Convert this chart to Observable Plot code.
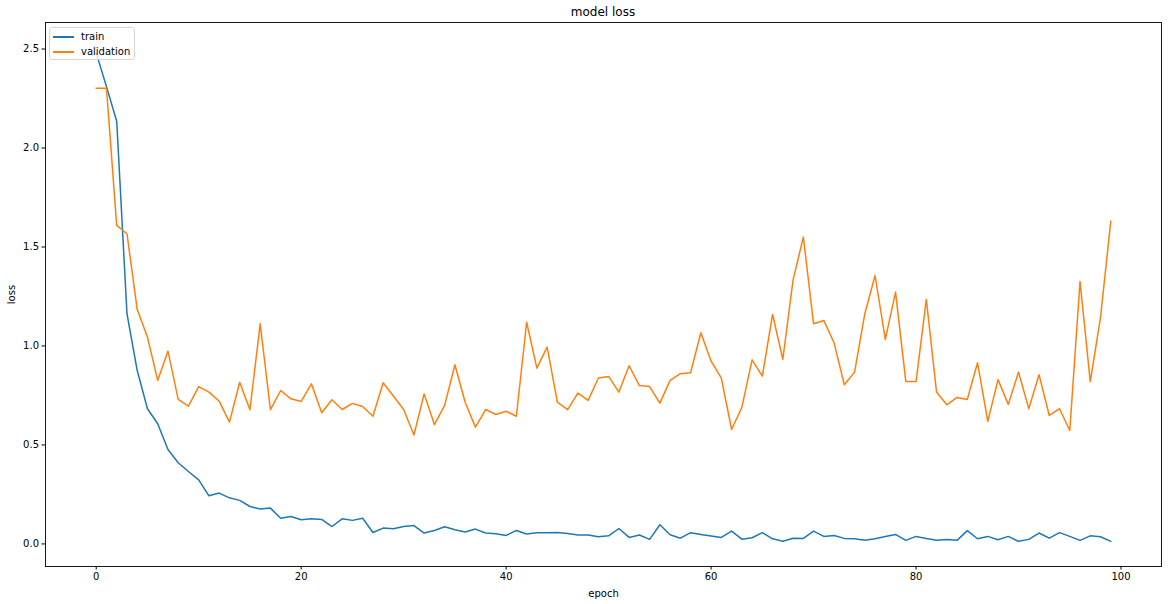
<!DOCTYPE html>
<html>
<head>
<meta charset="utf-8">
<script src="https://cdn.jsdelivr.net/npm/d3@7"></script>
<script src="https://cdn.jsdelivr.net/npm/@observablehq/plot@0.6"></script>
<style>
  html, body { margin: 0; padding: 0; background: #fff; }
  body { width: 1170px; height: 604px; overflow: hidden; font-family: "DejaVu Sans", sans-serif; }
  #wrap { position: relative; width: 1170px; }
  #title { height: 20px; box-sizing: border-box; padding-top: 5px; font-size: 12px; line-height: 14px; text-align: center; padding-left: 36px; color: #000; }
  #legend { position: absolute; left: 49px; top: 27px; width: 84px; height: 31px; border: 1px solid #d5d5d5; border-radius: 3px; background: rgba(255,255,255,0.8); font-size: 10px; color: #000; }
  .row { position: absolute; left: 0; height: 14px; }
  .sw { position: absolute; left: 3px; width: 21px; height: 1.5px; top: 6px; }
  .lab { position: absolute; left: 31px; top: 0; line-height: 14px; white-space: nowrap; }
  svg text { font-family: "DejaVu Sans", sans-serif; }
</style>
</head>
<body>
<div id="wrap">
  <div id="title">model loss</div>
  <div id="chart"></div>
  <div id="legend"></div>
</div>
<script>
const title = "model loss";
const xLabel = "epoch";
const yLabel = "loss";
const seriesNames = ["train", "validation"];
const seriesColors = ["#1f77b4", "#ff7f0e"];
const xTicks = [0, 20, 40, 60, 80, 100];
const yTicks = [0.0, 0.5, 1.0, 1.5, 2.0, 2.5];

const trainLoss = [
  2.48, 2.31, 2.135, 1.163, 0.876, 0.683, 0.607, 0.477, 0.41, 0.366,
  0.324, 0.243, 0.257, 0.233, 0.22, 0.189, 0.176, 0.181, 0.13, 0.139,
  0.122, 0.127, 0.124, 0.088, 0.127, 0.119, 0.13, 0.058, 0.08, 0.077,
  0.088, 0.093, 0.055, 0.068, 0.087, 0.072, 0.06, 0.075, 0.055, 0.051,
  0.043, 0.068, 0.05, 0.057, 0.057, 0.058, 0.053, 0.045, 0.045, 0.036,
  0.041, 0.078, 0.033, 0.045, 0.023, 0.097, 0.046, 0.029, 0.057, 0.048,
  0.04, 0.033, 0.065, 0.024, 0.031, 0.057, 0.026, 0.014, 0.029, 0.028,
  0.065, 0.038, 0.043, 0.028, 0.026, 0.019, 0.026, 0.038, 0.048, 0.018,
  0.038, 0.028, 0.019, 0.023, 0.018, 0.067, 0.026, 0.038, 0.021, 0.038,
  0.013, 0.023, 0.055, 0.029, 0.057, 0.038, 0.018, 0.041, 0.036, 0.013
];

const validationLoss = [
  2.302, 2.302, 1.609, 1.567, 1.184, 1.045, 0.826, 0.974, 0.73, 0.696,
  0.795, 0.767, 0.721, 0.615, 0.817, 0.678, 1.112, 0.678, 0.775, 0.733,
  0.72, 0.809, 0.663, 0.728, 0.679, 0.71, 0.694, 0.645, 0.814, 0.747,
  0.679, 0.55, 0.758, 0.603, 0.70, 0.905, 0.716, 0.59, 0.679, 0.654,
  0.67, 0.645, 1.12, 0.888, 0.994, 0.716, 0.678, 0.762, 0.725, 0.838,
  0.846, 0.767, 0.90, 0.80, 0.795, 0.711, 0.826, 0.86, 0.865, 1.067,
  0.923, 0.838, 0.578, 0.69, 0.93, 0.848, 1.159, 0.933, 1.334, 1.55,
  1.112, 1.129, 1.016, 0.804, 0.868, 1.163, 1.356, 1.033, 1.272, 0.82,
  0.82, 1.235, 0.767, 0.703, 0.74, 0.73, 0.915, 0.619, 0.83, 0.705,
  0.868, 0.683, 0.855, 0.649, 0.683, 0.573, 1.326, 0.82, 1.145, 1.63
];

const seriesValues = [trainLoss, validationLoss];
const rows = [];
seriesValues.forEach((vals, s) => {
  vals.forEach((v, i) => rows.push({ epoch: i, loss: v, series: seriesNames[s] }));
});

const chart = Plot.plot({
  width: 1170,
  height: 584,
  marginLeft: 45,
  marginRight: 9,
  marginTop: 2,
  marginBottom: 38,
  style: { fontFamily: "DejaVu Sans, sans-serif", fontSize: "10px", color: "#000", background: "#fff" },
  x: { domain: [-4.95, 103.95] },
  y: { domain: [-0.114, 2.634] },
  color: { domain: seriesNames, range: seriesColors },
  marks: [
    Plot.line(rows, { x: "epoch", y: "loss", z: "series", stroke: "series", strokeWidth: 1.5, strokeLinejoin: "round", strokeLinecap: "square" }),
    Plot.frame({ stroke: "#000", strokeWidth: 0.9 }),
    Plot.axisX({ ticks: xTicks, tickSize: 3.5, tickPadding: 3, tickFormat: d => String(d), label: xLabel, labelAnchor: "center", labelArrow: "none", labelOffset: 30, fontSize: 10 }),
    Plot.axisY({ ticks: yTicks, tickSize: 3.5, tickPadding: 3, tickFormat: d3.format(".1f"), label: yLabel, labelAnchor: "center", labelArrow: "none", labelOffset: 38, fontSize: 10 })
  ]
});
document.getElementById("chart").appendChild(chart);

const legend = document.getElementById("legend");
seriesNames.forEach((name, i) => {
  const row = document.createElement("div");
  row.className = "row";
  row.style.top = (2 + i * 15) + "px";
  row.style.width = "84px";
  const sw = document.createElement("div");
  sw.className = "sw";
  sw.style.background = seriesColors[i];
  const lab = document.createElement("div");
  lab.className = "lab";
  lab.textContent = name;
  row.appendChild(sw);
  row.appendChild(lab);
  legend.appendChild(row);
});
</script>
</body>
</html>
